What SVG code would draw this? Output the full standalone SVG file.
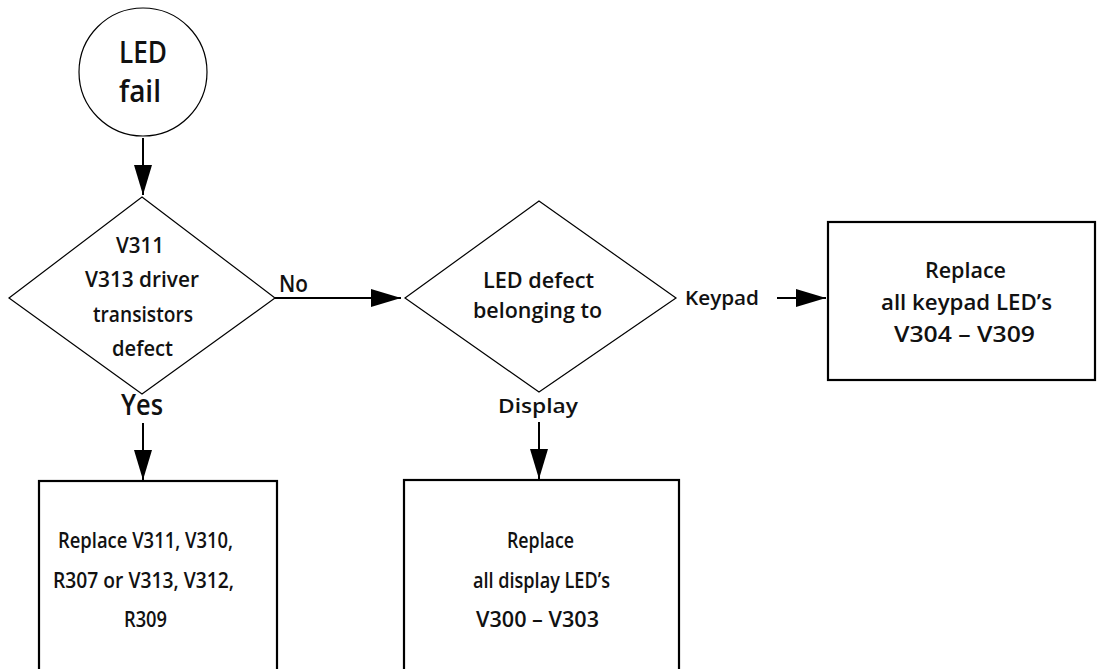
<svg xmlns="http://www.w3.org/2000/svg" width="1098" height="669" viewBox="0 0 1098 669">
<style>
text{font-family:"Open Sans","DejaVu Sans",sans-serif;font-weight:600;fill:#111;text-anchor:middle}
.shape{fill:#fff;stroke:#000;stroke-width:1.2}
.box{fill:#fff;stroke:#000;stroke-width:2.2}
.conn{stroke:#000;stroke-width:2;fill:none;marker-end:url(#ah)}
</style>
<defs>
<marker id="ah" markerUnits="userSpaceOnUse" markerWidth="30" markerHeight="18" viewBox="0 0 30 18" refX="30" refY="9" orient="auto">
<path d="M0,0 L30,9 L0,18 z" fill="#000"/>
</marker>
</defs>
<g id="connectors">
<line class="conn" x1="143" y1="138" x2="143" y2="195"/>
<line class="conn" x1="275" y1="298" x2="401" y2="298"/>
<line class="conn" x1="143" y1="423" x2="143" y2="480"/>
<line class="conn" x1="777" y1="298" x2="826" y2="298"/>
<line class="conn" x1="539" y1="422" x2="539" y2="479"/>
<text x="293.5" y="292" font-size="23" textLength="29" lengthAdjust="spacingAndGlyphs">No</text>
<text x="142" y="415" font-size="28" textLength="42" lengthAdjust="spacingAndGlyphs">Yes</text>
<text x="722" y="305" font-size="20" textLength="74" lengthAdjust="spacingAndGlyphs">Keypad</text>
<text x="538" y="413" font-size="20" textLength="80" lengthAdjust="spacingAndGlyphs">Display</text>
</g>
<g id="start">
<circle class="shape" cx="143" cy="72" r="64"/>
<text x="143" y="63" font-size="30" textLength="48" lengthAdjust="spacingAndGlyphs">LED</text>
<text x="140" y="102" font-size="30" textLength="42" lengthAdjust="spacingAndGlyphs">fail</text>
</g>
<g id="decision1">
<polygon class="shape" points="142,197 275,298 142,394 9,298"/>
<text x="140" y="253" font-size="22" textLength="48" lengthAdjust="spacingAndGlyphs">V311</text>
<text x="142" y="287" font-size="22" textLength="114" lengthAdjust="spacingAndGlyphs">V313 driver</text>
<text x="143" y="322" font-size="22" textLength="100" lengthAdjust="spacingAndGlyphs">transistors</text>
<text x="142.5" y="356" font-size="22" textLength="61" lengthAdjust="spacingAndGlyphs">defect</text>
</g>
<g id="decision2">
<polygon class="shape" points="539,201 676,298 539,392 405,298"/>
<text x="538.5" y="288" font-size="21" textLength="111" lengthAdjust="spacingAndGlyphs">LED defect</text>
<text x="537.5" y="318" font-size="21" textLength="129" lengthAdjust="spacingAndGlyphs">belonging to</text>
</g>
<g id="box-keypad">
<rect class="box" x="828" y="222" width="267" height="158"/>
<text x="965.5" y="278" font-size="21" textLength="81" lengthAdjust="spacingAndGlyphs">Replace</text>
<text x="966.5" y="310" font-size="21" textLength="171" lengthAdjust="spacingAndGlyphs">all keypad LED’s</text>
<text x="964.5" y="342" font-size="21" textLength="141" lengthAdjust="spacingAndGlyphs">V304 – V309</text>
</g>
<g id="box-transistors">
<rect class="box" x="39" y="481" width="238" height="200"/>
<text x="145.5" y="548" font-size="21" textLength="175" lengthAdjust="spacingAndGlyphs">Replace V311, V310,</text>
<text x="143.5" y="588" font-size="21" textLength="181" lengthAdjust="spacingAndGlyphs">R307 or V313, V312,</text>
<text x="145.5" y="627" font-size="21" textLength="43" lengthAdjust="spacingAndGlyphs">R309</text>
</g>
<g id="box-display">
<rect class="box" x="404" y="480" width="275" height="200"/>
<text x="540.5" y="548" font-size="21" textLength="67" lengthAdjust="spacingAndGlyphs">Replace</text>
<text x="541.5" y="588" font-size="21" textLength="137" lengthAdjust="spacingAndGlyphs">all display LED’s</text>
<text x="537.5" y="627" font-size="21" textLength="123" lengthAdjust="spacingAndGlyphs">V300 – V303</text>
</g>
</svg>
